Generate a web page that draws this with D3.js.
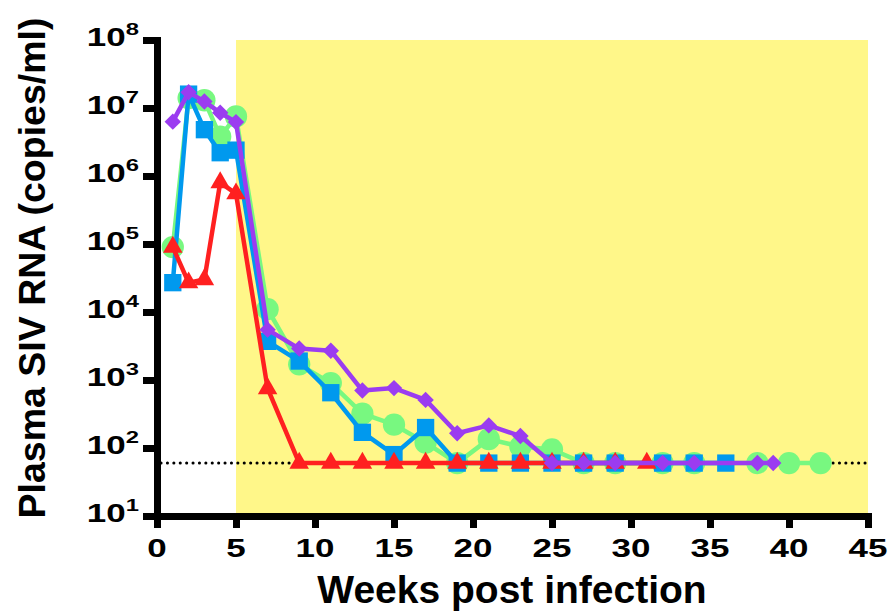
<!DOCTYPE html>
<html>
<head>
<meta charset="utf-8">
<script src="https://cdn.jsdelivr.net/npm/d3@7"></script>
<style>
  body { margin: 0; background: #fff; }
  text { font-family: 'Liberation Sans', Arial, sans-serif; font-weight: bold; fill: #000; }
</style>
</head>
<body>
<div id="chart"></div>
<script>
const width = 891
const height = 612

// data (weeks post infection, copies/ml)
const lod = 60

const greenWeeks = [1, 2, 3, 4, 5, 7, 9, 11, 13, 15, 17, 19, 21, 23, 25, 27, 29, 32, 34, 38, 40, 42]
const greenValues = [9e4, 1.4e7, 1.3e7, 3.8e6, 7.5e6, 1.1e4, 1.7e3, 900, 320, 220, 120, 60, 135, 105, 95, 60, 60, 60, 60, 60, 60, 60]

const blueWeeks = [1, 2, 3, 4, 5, 7, 9, 11, 13, 15, 17, 19, 21, 23, 25, 27, 29, 32, 34, 36]
const blueValues = [2.7e4, 1.6e7, 4.8e6, 2.2e6, 2.4e6, 3.7e3, 1.9e3, 650, 170, 80, 200, 60, 60, 60, 60, 60, 60, 60, 60, 60]

const redWeeks = [1, 2, 3, 4, 5, 7, 9, 11, 13, 15, 17, 19, 21, 23, 25, 27, 29, 31]
const redValues = [9e4, 2.7e4, 3e4, 8e5, 5.5e5, 750, 60, 60, 60, 60, 60, 60, 60, 60, 60, 60, 60, 60]

const purpleWeeks = [1, 2, 3, 4, 5, 7, 9, 11, 13, 15, 17, 19, 21, 23, 25, 27, 29, 32, 34, 38, 39]
const purpleValues = [6.3e6, 1.7e7, 1.25e7, 8.5e6, 6.2e6, 5.5e3, 2.9e3, 2.7e3, 700, 760, 510, 165, 215, 150, 60, 60, 60, 60, 60, 60, 60]

const xTicks = [0, 5, 10, 15, 20, 25, 30, 35, 40, 45]
const yExponents = [1, 2, 3, 4, 5, 6, 7, 8]
const shadeStart = 5

const svg = d3
  .select('#chart')
  .append('svg')
  .attr('width', width)
  .attr('height', height)

const x = d3.scaleLinear().domain([0, 45]).range([157, 868])
const y = d3.scaleLog().domain([10, 1e8]).range([516, 40])

// shaded period
svg
  .append('rect')
  .attr('x', x(shadeStart))
  .attr('y', y(1e8))
  .attr('width', x(45) - x(shadeStart))
  .attr('height', y(10) - y(1e8))
  .attr('fill', '#fff789')

// limit of detection
svg
  .append('line')
  .attr('x1', x(0) + 4)
  .attr('x2', x(45))
  .attr('y1', y(lod))
  .attr('y2', y(lod))
  .attr('stroke', '#000')
  .attr('stroke-width', 3)
  .attr('stroke-linecap', 'round')
  .attr('stroke-dasharray', '0.1,6.3')

const series = [
  { weeks: greenWeeks, values: greenValues, color: '#78f880', symbol: d3.symbolCircle, size: 390, rotate: 0 },
  { weeks: blueWeeks, values: blueValues, color: '#0099ee', symbol: d3.symbolSquare, size: 300, rotate: 0 },
  { weeks: redWeeks, values: redValues, color: '#ff2020', symbol: d3.symbolTriangle, size: 165, rotate: 0 },
  { weeks: purpleWeeks, values: purpleValues, color: '#9b3cf0', symbol: d3.symbolSquare, size: 135, rotate: 45 }
]

const line = d3
  .line()
  .x(d => x(d[0]))
  .y(d => y(d[1]))

series.forEach(s => {
  const pts = s.weeks.map((w, i) => [w, s.values[i]])
  const g = svg.append('g')

  g.append('path')
    .datum(pts)
    .attr('d', line)
    .attr('fill', 'none')
    .attr('stroke', s.color)
    .attr('stroke-width', 4.5)
    .attr('stroke-linejoin', 'round')

  g.selectAll('.pt')
    .data(pts)
    .enter()
    .append('path')
    .attr('class', 'pt')
    .attr('d', d3.symbol().type(s.symbol).size(s.size))
    .attr('transform', d => `translate(${x(d[0])},${y(d[1])}) rotate(${s.rotate})`)
    .attr('fill', s.color)
})

// axes
const xAxis = svg
  .append('g')
  .attr('transform', `translate(0,${y(10)})`)
  .call(d3.axisBottom(x).tickValues(xTicks).tickSize(12).tickSizeOuter(0).tickFormat(''))

const yAxis = svg
  .append('g')
  .attr('transform', `translate(${x(0)},0)`)
  .call(d3.axisLeft(y).tickValues(yExponents.map(e => Math.pow(10, e))).tickSize(14).tickSizeOuter(0).tickFormat(''))

svg.selectAll('.domain, .tick line')
  .attr('stroke', '#000')
  .attr('stroke-width', 7)
xAxis.select('.domain').attr('stroke-linecap', 'square')
yAxis.select('.domain').attr('stroke-linecap', 'square')

// tick labels
svg
  .selectAll('.xlab')
  .data(xTicks)
  .enter()
  .append('g')
  .attr('transform', d => `translate(${x(d)},556.5)`)
  .append('text')
  .attr('transform', 'scale(1.4,1)')
  .attr('text-anchor', 'middle')
  .attr('font-size', 25)
  .text(d => d)

const ylab = svg
  .selectAll('.ylab')
  .data(yExponents)
  .enter()
  .append('g')
  .attr('transform', d => `translate(139,${y(Math.pow(10, d)) + 6})`)
  .append('text')
  .attr('transform', 'scale(1.4,1)')
  .attr('text-anchor', 'end')
  .attr('font-size', 25)

ylab.append('tspan').text('10')
ylab
  .append('tspan')
  .attr('font-size', 17)
  .attr('dy', -11)
  .text(d => d)

// titles
svg
  .append('text')
  .attr('x', 512)
  .attr('y', 603)
  .attr('text-anchor', 'middle')
  .attr('font-size', 39)
  .text('Weeks post infection')

svg
  .append('text')
  .attr('transform', 'translate(45,268) rotate(-90)')
  .attr('text-anchor', 'middle')
  .attr('font-size', 37.5)
  .text('Plasma SIV RNA (copies/ml)')
</script>
</body>
</html>
